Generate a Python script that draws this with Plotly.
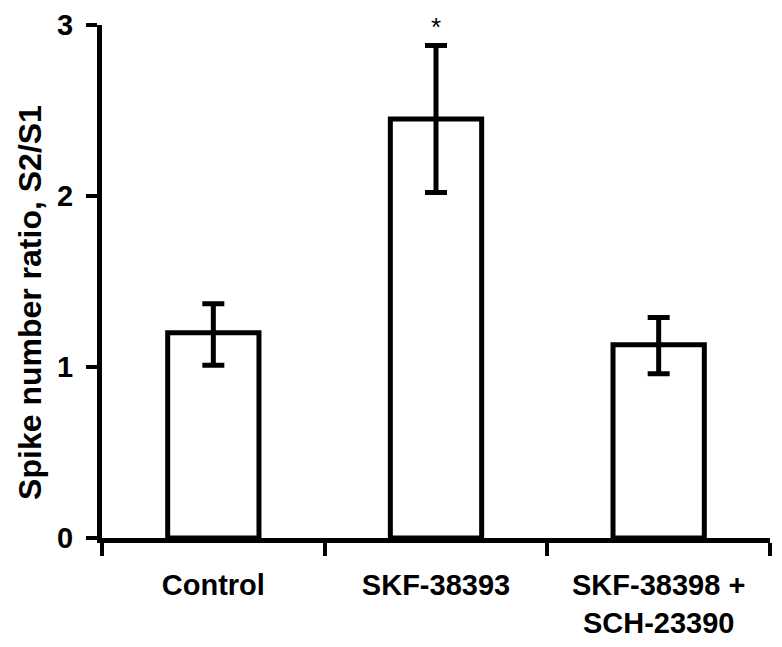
import plotly.graph_objects as go

categories = ["Control", "SKF-38393", "SKF-38398 +<br>SCH-23390"]
means = [1.20, 2.45, 1.13]
err_plus = [0.17, 0.43, 0.16]
err_minus = [0.19, 0.43, 0.17]
y_ticks = [0, 1, 2, 3]
sig_marks = ["", "*", ""]
y_title = "Spike number ratio, S2/S1"

font_family = "Liberation Sans, Arial, sans-serif"

fig = go.Figure()
fig.add_trace(go.Bar(
    x=categories, y=means, width=0.41,
    marker=dict(color="white", line=dict(color="black", width=5)),
    error_y=dict(type="data", symmetric=False, array=err_plus, arrayminus=err_minus,
                 color="black", thickness=5, width=11),
    showlegend=False,
))

for c, m, e, s in zip(categories, means, err_plus, sig_marks):
    if s:
        fig.add_annotation(x=c, y=m + e, text=s, showarrow=False, yanchor="bottom",
                           yshift=2, font=dict(family=font_family, size=26, color="black"))

# y-axis title placed as rotated annotation (sits slightly below the plot centre in the reference)
fig.add_annotation(xref="paper", yref="paper", x=-0.108, y=0.46, text=y_title,
                   textangle=-90, showarrow=False, xanchor="center", yanchor="middle",
                   font=dict(family=font_family, size=32, color="black", weight="bold"))

fig.update_layout(
    width=782, height=647,
    margin=dict(l=102, r=12, t=25, b=109, autoexpand=False),
    paper_bgcolor="white", plot_bgcolor="white",
    font=dict(family=font_family, color="black"),
    xaxis=dict(
        type="category", tickson="boundaries", ticks="outside", ticklen=13, tickwidth=4,
        tickcolor="black", showline=True, linewidth=5, linecolor="black",
        showgrid=False, ticklabelstandoff=17, automargin=False,
        tickfont=dict(size=29, family=font_family, weight="bold"),
        range=[-0.5, 2.5],
    ),
    yaxis=dict(
        range=[0, 3], tickvals=y_ticks, ticks="outside", ticklen=11, tickwidth=4,
        tickcolor="black", showline=True, linewidth=5, linecolor="black",
        showgrid=False, zeroline=False, ticklabelstandoff=7, automargin=False,
        tickfont=dict(size=29, family=font_family, weight="bold"),
    ),
)

fig.write_html("out.html", config={"displayModeBar": False},
               post_script="document.body.style.margin='0';window.dispatchEvent(new Event('resize'));")
